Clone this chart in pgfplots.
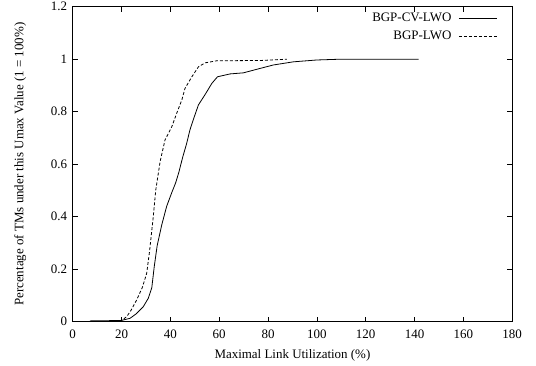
\documentclass[border=0pt]{standalone}
\usepackage{fontspec}
\setmainfont{Liberation Serif}
\usepackage{pgfplots}
\pgfplotsset{compat=1.18}
\begin{document}
\begin{tikzpicture}
\path[use as bounding box] (-72.7bp,-44.3bp) rectangle (463.3bp,321.7bp);
\begin{axis}[
  at={(0,0)}, anchor=south west,
  scale only axis, width=439.5bp, height=315bp,
  xmin=0, xmax=180, ymin=0, ymax=1.2,
  xtick={0,20,...,180}, ytick={0,0.2,0.4,0.6,0.8,1,1.2},
  yticklabels={0,0.2,0.4,0.6,0.8,1,1.2},
  tick align=inside, major tick length=5bp,
  axis line style={line width=0.8bp},
  every tick/.style={line width=0.6bp, black},
  /pgf/number format/assume math mode=true,
  tick label style={font=\fontsize{13}{15}\selectfont},
  xticklabel style={yshift=-5bp},
  yticklabel style={xshift=-2bp},
  xlabel={Maximal Link Utilization (\%)},
  ylabel={Percentage of TMs under this Umax Value (1 = 100\%)},
  label style={font=\fontsize{13}{15}\selectfont},
  xlabel style={yshift=-4bp},
  ylabel style={yshift=18bp},
  legend plot pos=right,
  legend cell align=right,
  legend style={draw=none, fill=none, at={(rel axis cs:1,1)}, anchor=north east,
    inner sep=0pt, outer sep=0pt, column sep=7bp,
    xshift=-15bp, yshift=-6bp, font=\fontsize{13}{15}\selectfont, row sep=6bp,
    nodes={inner sep=0pt, text height=9bp, text depth=2.5bp}},
  legend image code/.code={\draw[#1] (0bp,0bp) -- (38bp,0bp);},
]
\addplot[black, line width=0.8bp] coordinates {
(7,0.003) (15,0.004) (20,0.005) (23.5,0.013) (26,0.03) (28.9,0.057) (31,0.09) (32.4,0.13)
(33.4,0.21) (34.6,0.29) (36.5,0.37) (38.5,0.44) (40.5,0.49) (42.2,0.53) (43.5,0.57)
(45,0.625) (46.7,0.68) (48,0.73) (49.4,0.77) (51.5,0.826) (54.2,0.865) (57,0.908)
(59.3,0.933) (64.5,0.944) (69.9,0.948) (76.8,0.965) (82.2,0.978) (90.4,0.99)
(100,0.997) (109.6,1.0) (141.7,1.0)
};
\addlegendentry{BGP-CV-LWO}
\addplot[black, line width=0.8bp, dash pattern=on 3bp off 2bp] coordinates {
(15,0.003) (20,0.005) (22.1,0.019) (24,0.045) (26.2,0.083) (28.5,0.13) (30.3,0.184)
(31.5,0.27) (33,0.4) (34,0.5) (35.8,0.61) (37.8,0.692) (40.6,0.743)
(42.6,0.794) (44.7,0.845) (46,0.889) (48.8,0.933) (51.5,0.971) (54.2,0.986)
(59,0.994) (76.8,0.995) (87.7,1.0)
};
\addlegendentry{BGP-LWO}
\end{axis}
\end{tikzpicture}
\end{document}
